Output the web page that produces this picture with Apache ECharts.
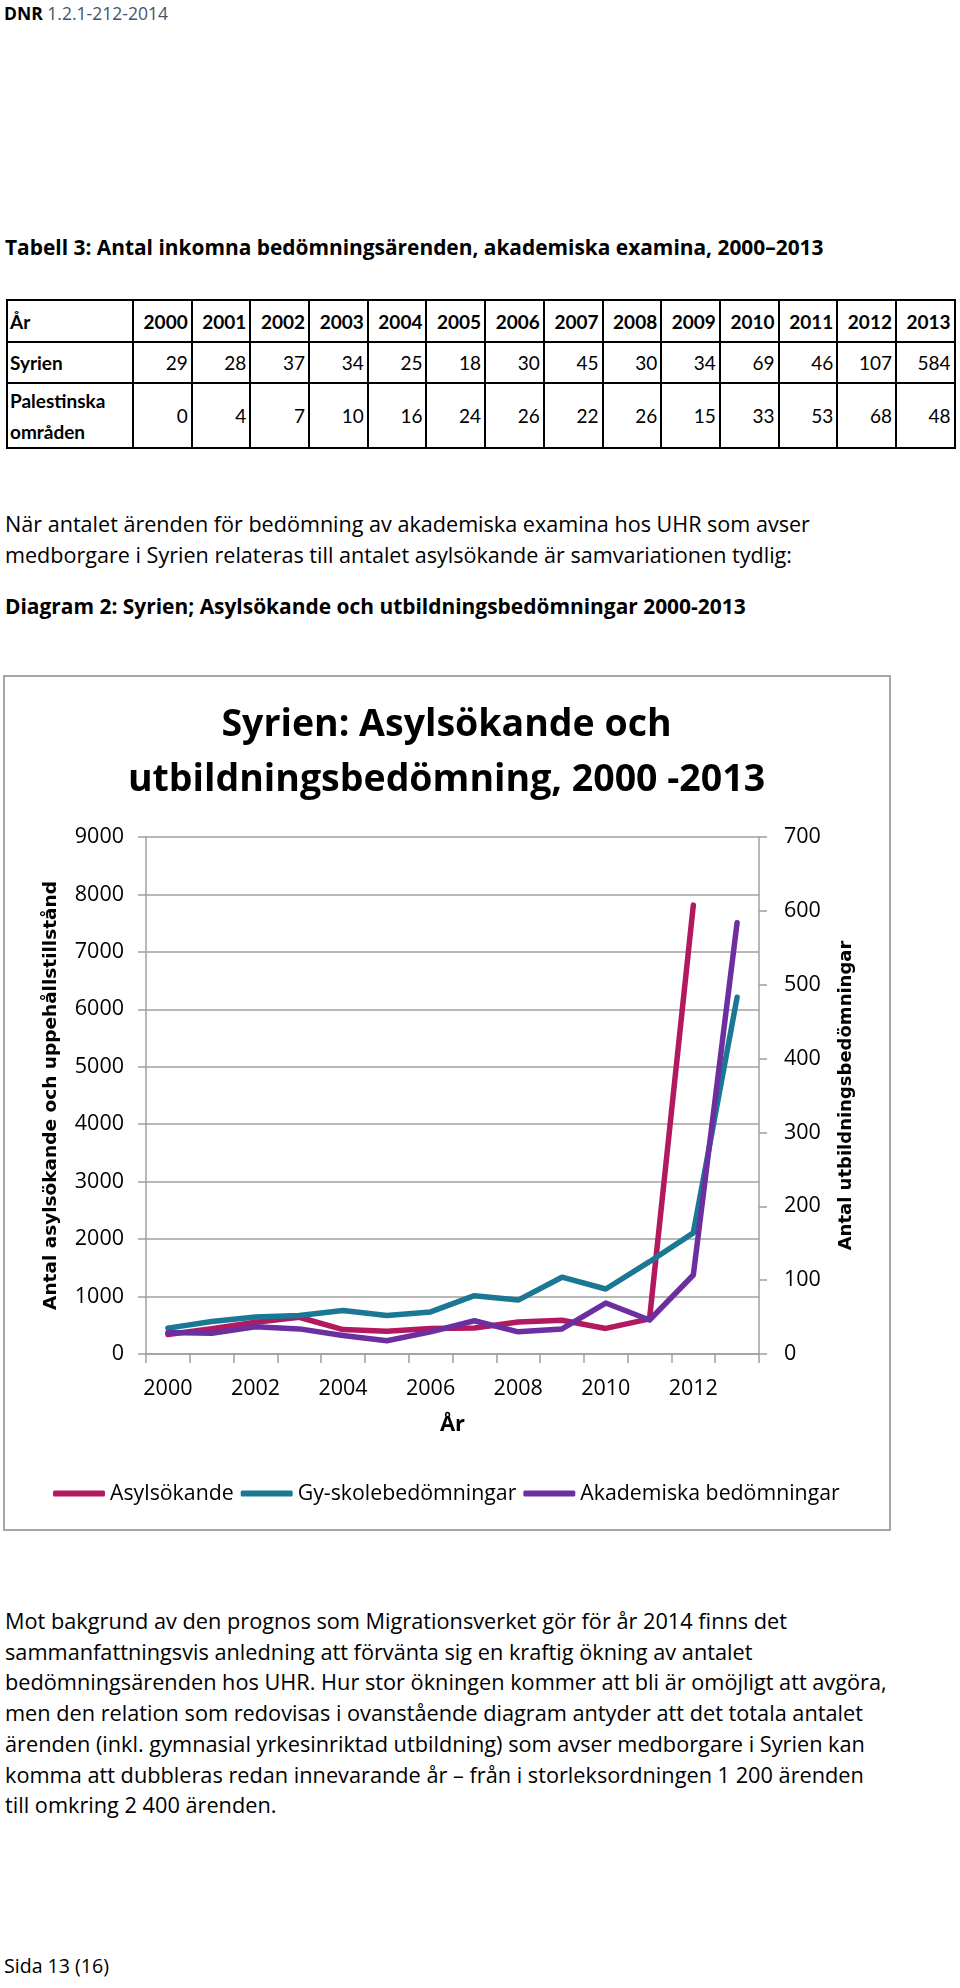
<!DOCTYPE html>
<html lang="sv">
<head>
<meta charset="utf-8">
<title>Syrien: Asylsökande och utbildningsbedömning, 2000-2013</title>
<script src="https://cdn.jsdelivr.net/npm/echarts@6/dist/echarts.min.js"></script>
<style>
  html, body { margin: 0; padding: 0; background: #fff; }
  body { position: relative; width: 960px; height: 1988px; overflow: hidden; font-family: "Open Sans", Lato, sans-serif; color: #000; }
  .txt { position: absolute; left: 5px; white-space: nowrap; font-size: 21px; line-height: 30.7px; }
  .bold { font-weight: bold; }
  #header { top: 1px; left: 4px; font-size: 16px; line-height: 24px; color: #44546a; }
  #header b { color: #000; }
  #tabTitle { top: 232px; font-size: 19.5px; }
  #tabell { position: absolute; left: 6px; top: 299px; border-collapse: collapse; table-layout: fixed; width: 948px; font-family: Lato, "Open Sans", sans-serif; font-size: 19px; }
  #tabell td { border: 2px solid #000; padding: 0 3px; text-align: right; white-space: nowrap; }
  #tabell td.lbl { text-align: left; font-weight: bold; padding-left: 2px; line-height: 31px; }
  #tabell tr.head td { font-weight: bold; }
  #p1 { top: 509px; }
  #diagTitle { top: 591px; }
  #ram { position: absolute; left: 3px; top: 675px; width: 884px; height: 852px; border: 2px solid #a6a6a6; }
  #chart { position: absolute; left: 4px; top: 676px; width: 885px; height: 854px; }
  #p2 { top: 1606px; }
  #footer { top: 1954px; left: 4px; font-size: 19px; line-height: 24px; }
</style>
</head>
<body>

<div id="header" class="txt" data-w="164"><b>DNR</b> 1.2.1-212-2014</div>

<div id="tabTitle" class="txt bold" data-w="819">Tabell 3: Antal inkomna bedömningsärenden, akademiska examina, 2000–2013</div>

<table id="tabell"></table>

<div id="p1" class="txt" data-w="805">När antalet ärenden för bedömning av akademiska examina hos UHR som avser<br>medborgare i Syrien relateras till antalet asylsökande är samvariationen tydlig:</div>

<div id="diagTitle" class="txt bold" data-w="741">Diagram 2: Syrien; Asylsökande och utbildningsbedömningar 2000-2013</div>

<div id="ram"></div>
<div id="chart"></div>

<div id="p2" class="txt" data-w="882">Mot bakgrund av den prognos som Migrationsverket gör för år 2014 finns det<br>sammanfattningsvis anledning att förvänta sig en kraftig ökning av antalet<br>bedömningsärenden hos UHR. Hur stor ökningen kommer att bli är omöjligt att avgöra,<br>men den relation som redovisas i ovanstående diagram antyder att det totala antalet<br>ärenden (inkl. gymnasial yrkesinriktad utbildning) som avser medborgare i Syrien kan<br>komma att dubbleras redan innevarande år – från i storleksordningen 1 200 ärenden<br>till omkring 2 400 ärenden.</div>

<div id="footer" class="txt" data-w="105">Sida 13 (16)</div>

<script>
// år 2000-2013
var years = ['2000', '2001', '2002', '2003', '2004', '2005', '2006', '2007', '2008', '2009', '2010', '2011', '2012', '2013'];

// tabell 3
var syrienRad = [29, 28, 37, 34, 25, 18, 30, 45, 30, 34, 69, 46, 107, 584];
var palestinaRad = [0, 4, 7, 10, 16, 24, 26, 22, 26, 15, 33, 53, 68, 48];

// diagram 2 (avlästa värden)
var asylsokande = [338, 442, 552, 640, 425, 396, 442, 454, 558, 587, 445, 611, 7814, null];
var gyBedomningar = [35, 44, 50, 52, 59, 52, 57, 79, 73, 104, 88, 125, 164, 483];
var akademiska = syrienRad;

var seriesNames = ['Asylsökande', 'Gy-skolebedömningar', 'Akademiska bedömningar'];
var seriesColors = ['#b3195f', '#1b7895', '#6c2fa0'];

// textrader får samma bredd som i originalet
document.querySelectorAll('[data-w]').forEach(function (el) {
    var target = +el.getAttribute('data-w');
    var fs = parseFloat(getComputedStyle(el).fontSize);
    var w = el.getBoundingClientRect().width;
    el.style.fontSize = (fs * target / w).toFixed(2) + 'px';
});

// bygg tabellen
function buildTable() {
    var rows = [
        { label: 'År', values: years, cls: 'head', h: 42 },
        { label: 'Syrien', values: syrienRad, cls: '', h: 41 },
        { label: 'Palestinska<br>områden', values: palestinaRad, cls: '', h: 65 }
    ];
    var html = '<colgroup><col style="width:126px">';
    years.forEach(function () { html += '<col style="width:58.7px">'; });
    html += '</colgroup>';
    rows.forEach(function (r) {
        html += '<tr class="' + r.cls + '" style="height:' + r.h + 'px"><td class="lbl">' + r.label + '</td>';
        r.values.forEach(function (v) { html += '<td>' + v + '</td>'; });
        html += '</tr>';
    });
    document.getElementById('tabell').innerHTML = html;
}
buildTable();

var gray = '#a0a0a0';
var labelFont = 'Open Sans';
var nameFont = 'DejaVu Sans';
var plain = function (v) { return String(v); };

var myChart = echarts.init(document.getElementById('chart'));
var option = {
    animation: false,
    title: {
        text: 'Syrien: Asylsökande och\nutbildningsbedömning, 2000 -2013',
        left: 'center',
        top: 17,
        textStyle: { fontFamily: labelFont, fontSize: 37.5, fontWeight: 'bold', lineHeight: 55, color: '#000' }
    },
    legend: {
        data: seriesNames,
        left: 44,
        top: 802,
        icon: 'roundRect',
        itemWidth: 52,
        itemHeight: 6,
        itemGap: 7,
        textStyle: { fontFamily: labelFont, fontSize: 21.3, color: '#000' }
    },
    grid: {
        left: 142,
        right: 130,
        top: 161,
        bottom: 176,
        containLabel: false
    },
    xAxis: {
        type: 'category',
        data: years,
        boundaryGap: true,
        name: 'År',
        nameLocation: 'middle',
        nameGap: 60,
        nameTextStyle: { fontFamily: labelFont, fontSize: 22, fontWeight: 'bold', color: '#000' },
        axisLine: { show: true, lineStyle: { color: gray, width: 1.5 } },
        axisTick: { show: true, interval: 0, length: 9, lineStyle: { color: gray, width: 1.5 } },
        axisLabel: { interval: 1, margin: 24, fontFamily: labelFont, fontSize: 21.5, color: '#000' },
        splitLine: { show: false }
    },
    yAxis: [{
        type: 'value',
        position: 'left',
        min: 0,
        max: 9000,
        interval: 1000,
        name: 'Antal asylsökande och uppehållstillstånd',
        nameLocation: 'middle',
        nameRotate: 90,
        nameGap: 85,
        nameTextStyle: { fontFamily: nameFont, fontSize: 18.5, fontWeight: 'bold', color: '#000' },
        axisLine: { show: true, lineStyle: { color: gray, width: 1.5 } },
        axisTick: { show: true, length: 8, lineStyle: { color: gray, width: 1.5 } },
        axisLabel: { margin: 22, formatter: plain, fontFamily: labelFont, fontSize: 21.5, color: '#000' },
        splitLine: { show: true, lineStyle: { color: gray, width: 1.5 } }
    }, {
        type: 'value',
        position: 'right',
        min: 0,
        max: 700,
        interval: 100,
        name: 'Antal utbildningsbedömningar',
        nameLocation: 'middle',
        nameRotate: 90,
        nameGap: 78,
        nameTextStyle: { fontFamily: nameFont, fontSize: 18, fontWeight: 'bold', color: '#000' },
        axisLine: { show: true, lineStyle: { color: gray, width: 1.5 } },
        axisTick: { show: true, length: 8, lineStyle: { color: gray, width: 1.5 } },
        axisLabel: { margin: 25, formatter: plain, fontFamily: labelFont, fontSize: 21.5, color: '#000' },
        splitLine: { show: false }
    }],
    series: [{
        name: seriesNames[0],
        type: 'line',
        yAxisIndex: 0,
        data: asylsokande,
        color: seriesColors[0],
        symbol: 'none',
        lineStyle: { width: 5.5, cap: 'round', join: 'round' }
    }, {
        name: seriesNames[1],
        type: 'line',
        yAxisIndex: 1,
        data: gyBedomningar,
        color: seriesColors[1],
        symbol: 'none',
        lineStyle: { width: 5.5, cap: 'round', join: 'round' }
    }, {
        name: seriesNames[2],
        type: 'line',
        yAxisIndex: 1,
        data: akademiska,
        color: seriesColors[2],
        symbol: 'none',
        lineStyle: { width: 5.5, cap: 'round', join: 'round' }
    }]
};
myChart.setOption(option);
</script>
</body>
</html>
